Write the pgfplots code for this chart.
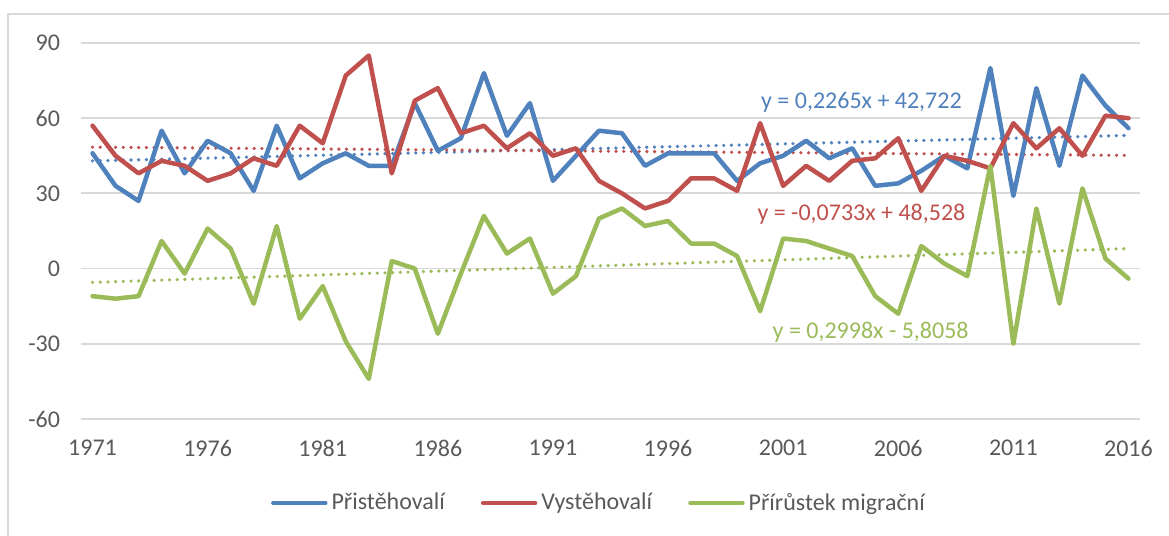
\documentclass[border=0pt]{standalone}
\usepackage{pgfplots}
\pgfplotsset{compat=1.18}
\usepackage{fontspec}
\setmainfont{Carlito}
\definecolor{cblue}{HTML}{4F81BD}
\definecolor{cred}{HTML}{C0504D}
\definecolor{cgreen}{HTML}{9BBB59}
\definecolor{cgrid}{HTML}{D9D9D9}
\definecolor{ctext}{HTML}{595959}
\begin{document}
\begin{tikzpicture}
\useasboundingbox (0,0) rectangle (584.5pt,268pt);
\draw[cgrid, line width=0.7pt] (4pt,-5pt) -- (4pt,261pt) -- (590pt,261pt);
\begin{axis}[
  at={(40.5pt,58.5pt)}, anchor=south west,
  scale only axis, width=529.5pt, height=188pt,
  xmin=1970.5, xmax=2016.5, ymin=-60, ymax=90,
  axis line style={draw=none}, major tick length=0pt,
  ymajorgrids, grid style={cgrid, line width=0.9pt},
  xtick={1971,1976,1981,1986,1991,1996,2001,2006,2011,2016},
  xticklabels={1971,1976,1981,1986,1991,1996,2001,2006,2011,2016},
  ytick={-60,-30,0,30,60,90},
  yticklabels={-60,-30,0,30,60,90},
  ticklabel style={font=\fontsize{12}{14}\selectfont, text=ctext},
  xticklabel style={anchor=center, yshift=-14.5pt},
  yticklabel style={anchor=east, xshift=-7pt},
  legend style={at={(0.490,-0.2234)}, anchor=center, draw=none, fill=none,
    font=\fontsize{12}{14}\selectfont, text=ctext, legend columns=3,
    /tikz/every even column/.append style={column sep=16pt},
    inner sep=0pt},
  legend image code/.code={\draw[#1, line width=2.25pt, line cap=round] (0pt,0pt) -- (26pt,0pt);},
  every axis plot/.append style={line width=2.25pt, line join=round, line cap=round},
]
% trend lines
\addplot[cblue, line width=1.8pt, dash pattern=on 0pt off 3.85pt, line cap=round, forget plot] coordinates {(1971,42.95) (2016,53.14)};
\addplot[cred, line width=1.8pt, dash pattern=on 0pt off 3.85pt, line cap=round, forget plot] coordinates {(1971,48.45) (2016,45.16)};
\addplot[cgreen, line width=1.8pt, dash pattern=on 0pt off 3.85pt, line cap=round, forget plot] coordinates {(1971,-5.51) (2016,7.99)};
% Přistěhovalí
\addplot[cblue] coordinates {
(1971,46) (1972,33) (1973,27) (1974,55) (1975,38) (1976,51) (1977,46) (1978,31) (1979,57) (1980,36)
(1981,42) (1982,46) (1983,41) (1984,41) (1985,66) (1986,47) (1987,52) (1988,78) (1989,53) (1990,66)
(1991,35) (1992,45) (1993,55) (1994,54) (1995,41) (1996,46) (1997,46) (1998,46) (1999,35) (2000,42)
(2001,45) (2002,51) (2003,44) (2004,48) (2005,33) (2006,34) (2007,39) (2008,45) (2009,40) (2010,80)
(2011,29) (2012,72) (2013,41) (2014,77) (2015,65) (2016,56)};
\addlegendentry{Přistěhovalí}
% Vystěhovalí
\addplot[cred] coordinates {
(1971,57) (1972,45) (1973,38) (1974,43) (1975,41) (1976,35) (1977,38) (1978,44) (1979,41) (1980,57)
(1981,50) (1982,77) (1983,85) (1984,38) (1985,67) (1986,72) (1987,54) (1988,57) (1989,48) (1990,54)
(1991,45) (1992,48) (1993,35) (1994,30) (1995,24) (1996,27) (1997,36) (1998,36) (1999,31) (2000,58)
(2001,33) (2002,41) (2003,35) (2004,43) (2005,44) (2006,52) (2007,31) (2008,45) (2009,43) (2010,40)
(2011,58) (2012,48) (2013,56) (2014,45) (2015,61) (2016,60)};
\addlegendentry{Vystěhovalí}
% Přírůstek migrační
\addplot[cgreen] coordinates {
(1971,-11) (1972,-12) (1973,-11) (1974,11) (1975,-2) (1976,16) (1977,8) (1978,-14) (1979,17) (1980,-20)
(1981,-7) (1982,-29) (1983,-44) (1984,3) (1985,0) (1986,-26) (1987,-2) (1988,21) (1989,6) (1990,12)
(1991,-10) (1992,-3) (1993,20) (1994,24) (1995,17) (1996,19) (1997,10) (1998,10) (1999,5) (2000,-17)
(2001,12) (2002,11) (2003,8) (2004,5) (2005,-11) (2006,-18) (2007,9) (2008,2) (2009,-3) (2010,41)
(2011,-30) (2012,24) (2013,-14) (2014,32) (2015,4) (2016,-4)};
\addlegendentry{Přírůstek migrační}
\node[text=cblue, font=\fontsize{12}{14}\selectfont] at (axis cs:2004.4,66.4) {y = 0,2265x + 42,722};
\node[text=cred, font=\fontsize{12}{14}\selectfont] at (axis cs:2004.4,21.6) {y = -0,0733x + 48,528};
\node[text=cgreen, font=\fontsize{12}{14}\selectfont] at (axis cs:2004.8,-25.2) {y = 0,2998x - 5,8058};
\end{axis}
\end{tikzpicture}
\end{document}
